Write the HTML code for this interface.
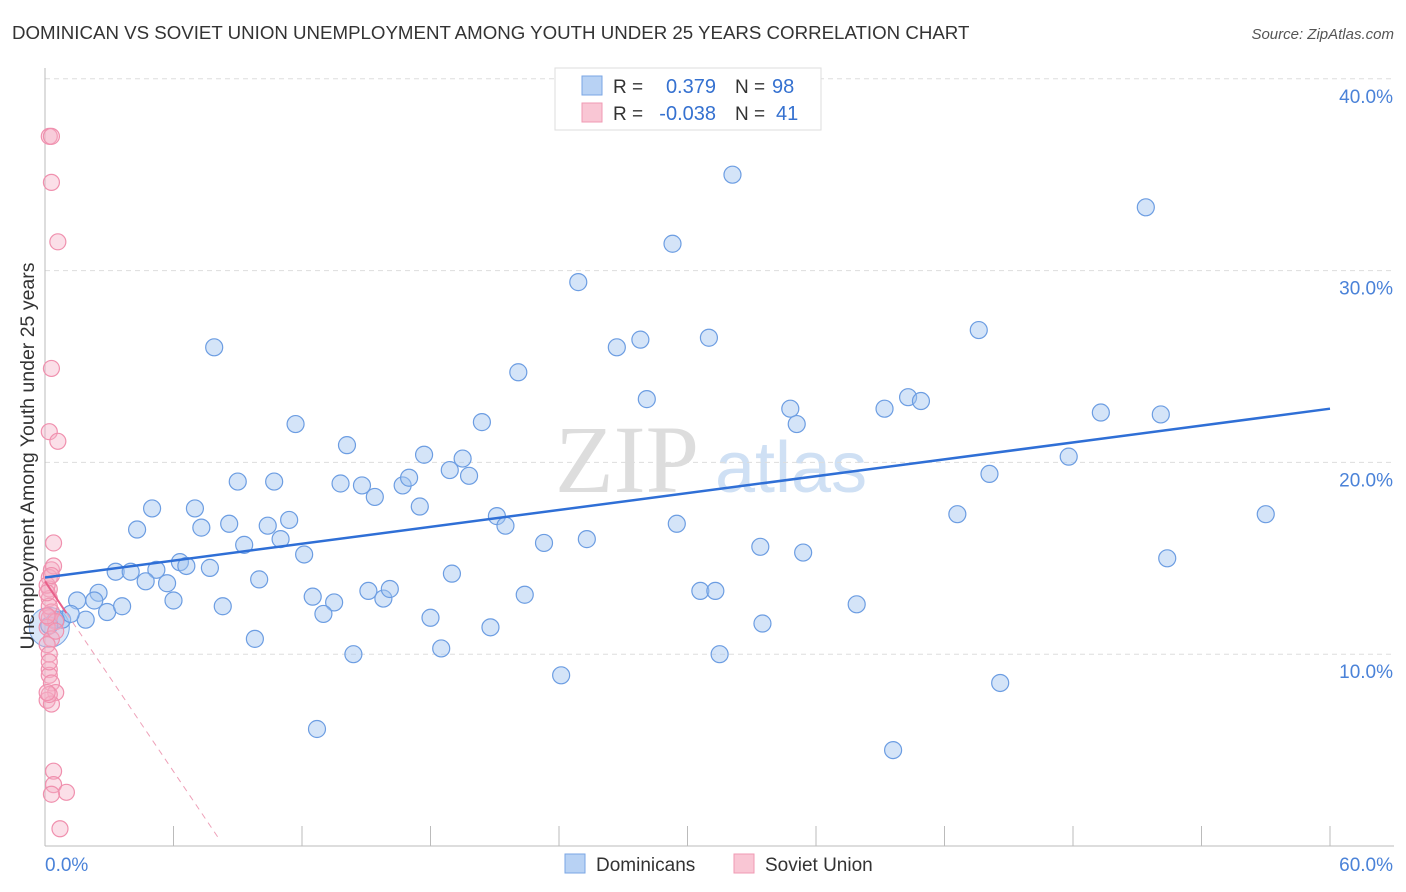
<!DOCTYPE html>
<html><head><meta charset="utf-8"><style>
body{margin:0;background:#fff;font-family:"Liberation Sans",sans-serif}
svg{display:block}
</style></head><body>
<svg id="c" width="1406" height="892">
<text x="12" y="39" font-size="18.7" fill="#333">DOMINICAN VS SOVIET UNION UNEMPLOYMENT AMONG YOUTH UNDER 25 YEARS CORRELATION CHART</text>
<text x="1394" y="39" font-size="15" fill="#555" font-style="italic" text-anchor="end">Source: ZipAtlas.com</text>
<text x="555" y="492" font-size="96" fill="#ddd" font-family="Liberation Serif">ZIP</text>
<text x="715" y="492" font-size="72" fill="#cfe0f4">atlas</text>
<g id="grid"></g><g id="axes"></g><g id="pts"></g><g id="trend"></g>
<text transform="translate(34,456) rotate(-90)" font-size="19.5" fill="#333" text-anchor="middle">Unemployment Among Youth under 25 years</text>
<g>
<rect x="555" y="68" width="266" height="62" fill="#fff" stroke="#ddd"/>
<rect x="582" y="76" width="20" height="19" fill="#b8d2f4" stroke="#7aa6e4"/>
<rect x="582" y="103" width="20" height="19" fill="#f9c6d4" stroke="#f09ab3"/>
<text x="613" y="93" font-size="19" fill="#333">R =</text><text x="716" y="93" font-size="20" fill="#3571d0" text-anchor="end">0.379</text>
<text x="735" y="93" font-size="19" fill="#333">N =</text><text x="772" y="93" font-size="20" fill="#3571d0">98</text>
<text x="613" y="120" font-size="19" fill="#333">R =</text><text x="716" y="120" font-size="20" fill="#3571d0" text-anchor="end">-0.038</text>
<text x="735" y="120" font-size="19" fill="#333">N =</text><text x="776" y="120" font-size="20" fill="#3571d0">41</text>
</g>
<g>
<rect x="565" y="854" width="20" height="19" fill="#b8d2f4" stroke="#7aa6e4"/>
<text x="596" y="871" font-size="19" fill="#333">Dominicans</text>
<rect x="734" y="854" width="20" height="19" fill="#f9c6d4" stroke="#f09ab3"/>
<text x="765" y="871" font-size="19" fill="#333">Soviet Union</text>
</g>
</svg>
<script>
const xTicks=[0,60];
const yTicks=[10,20,30,40];
const blueX=[7.9,11.7,14.1,9.0,10.7,5.0,7.0,4.3,8.6,7.3,10.4,11.4,11.0,9.3,6.3,6.6,7.7,3.3,4.0,5.2,4.7,5.7,10.0,12.1,2.5,1.5,2.3,2.9,3.6,6.0,8.3,1.9,0.8,1.2,0.5,0.2,9.8,12.5,13.5,13.0,13.8,14.8,15.4,16.7,17.0,17.7,18.9,19.5,19.8,17.5,15.1,15.8,16.1,19.0,18.0,14.4,18.5,12.7,20.4,22.1,24.9,26.7,27.8,28.1,29.3,31.0,32.1,21.1,21.5,23.3,25.3,22.4,20.8,24.1,29.5,30.6,31.3,31.5,33.4,33.5,34.8,35.1,35.4,37.9,39.2,40.3,40.9,43.6,42.6,44.1,44.6,39.6,47.8,49.3,51.4,52.1,52.4,57.0];
const blueY=[26.0,22.0,20.9,19.0,19.0,17.6,17.6,16.5,16.8,16.6,16.7,17.0,16.0,15.7,14.8,14.6,14.5,14.3,14.3,14.4,13.8,13.7,13.9,15.2,13.2,12.8,12.8,12.2,12.5,12.8,12.5,11.8,11.8,12.1,11.8,11.5,10.8,13.0,12.7,12.1,18.9,18.8,18.2,18.8,19.2,20.4,19.6,20.2,19.3,17.7,13.3,12.9,13.4,14.2,11.9,10.0,10.3,6.1,22.1,24.7,29.4,26.0,26.4,23.3,31.4,26.5,35.0,17.2,16.7,15.8,16.0,13.1,11.4,8.9,16.8,13.3,13.3,10.0,15.6,11.6,22.8,22.0,15.3,12.6,22.8,23.4,23.2,26.9,17.3,19.4,8.5,5.0,20.3,22.6,33.3,22.5,15.0,17.3];
const pinkX=[0.2,0.3,0.6,0.3,0.2,0.6,0.4,0.3,0.2,0.2,0.2,0.3,0.2,0.5,0.1,0.3,0.1,0.2,0.2,0.3,0.5,0.1,0.3,0.4,0.4,1.0,0.3,0.7,0.1,0.2,0.1,0.5,0.2,0.3,0.4,0.3,0.1,0.2,0.1,0.2];
const pinkY=[37.0,34.6,31.5,24.9,21.6,21.1,15.8,14.4,14.0,13.4,12.9,12.2,11.9,11.7,11.4,10.8,10.5,9.2,8.9,8.5,8.0,7.6,7.4,3.9,3.2,2.8,2.7,0.9,13.6,12.5,12.0,11.2,10.0,37.0,14.6,14.1,13.2,7.9,8.0,9.6];
const blueLine=[14.0,22.8];
const pinkLine=[13.8,0.3,8.17];
const X=v=>45+v*(1330-45)/60, Y=v=>846-v*19.18;
const NS='http://www.w3.org/2000/svg';
function mk(t,a,p){const e=document.createElementNS(NS,t);for(const k in a)e.setAttribute(k,a[k]);p.appendChild(e);return e;}
const grid=document.getElementById('grid'),axes=document.getElementById('axes'),pts=document.getElementById('pts'),tr=document.getElementById('trend');
yTicks.forEach(v=>{const l=mk('line',{x1:45,x2:1394,y1:Y(v),y2:Y(v),stroke:'#ddd','stroke-dasharray':'5,4'},grid);


const t=mk('text',{x:1393,y:Y(v)+24,'font-size':19,fill:'#4a82d8','text-anchor':'end'},axes);t.textContent=v.toFixed(1)+'%';

});
mk('line',{x1:45,x2:45,y1:68,y2:846,stroke:'#bbb'},axes);
mk('line',{x1:45,x2:1394,y1:846,y2:846,stroke:'#bbb'},axes);
for(let i=1;i<=10;i++){mk('line',{x1:X(i*6),x2:X(i*6),y1:826,y2:846,stroke:'#bbb'},axes);}
xTicks.forEach((v,i)=>{const t=mk('text',{x:i?1393:45,y:871,'font-size':19,fill:'#4a82d8','text-anchor':i?'end':'start'},axes);t.textContent=v.toFixed(1)+'%';

});
const big=mk('circle',{cx:X(0.2),cy:Y(11.4),r:20,fill:'rgba(160,195,240,0.4)',stroke:'#7aa6e4'},pts);


blueX.forEach((v,i)=>{const c=mk('circle',{cx:X(v),cy:Y(blueY[i]),r:8.5,fill:'rgba(160,195,240,0.45)',stroke:'#6c9de2','stroke-width':1.2},pts);

});
pinkX.forEach((v,i)=>{const c=mk('circle',{cx:X(v),cy:Y(pinkY[i]),r:8,fill:'rgba(245,175,198,0.4)',stroke:'#f090ae','stroke-width':1.2},pts);

});
const bl=mk('line',{x1:X(0),y1:Y(blueLine[0]),x2:X(60),y2:Y(blueLine[1]),stroke:'#2f6fd6','stroke-width':2.5},tr);


const slope=(pinkLine[1]-pinkLine[0])/pinkLine[2];
const ps=mk('line',{x1:X(0),y1:Y(pinkLine[0]),x2:X(1),y2:Y(pinkLine[0]+slope),stroke:'#e8608a','stroke-width':2},tr);


const pd=mk('line',{x1:X(1),y1:Y(pinkLine[0]+slope),x2:X(pinkLine[2]),y2:Y(pinkLine[1]),stroke:'#eea0b8','stroke-width':1,'stroke-dasharray':'6,5'},tr);


</script>
</body></html>
